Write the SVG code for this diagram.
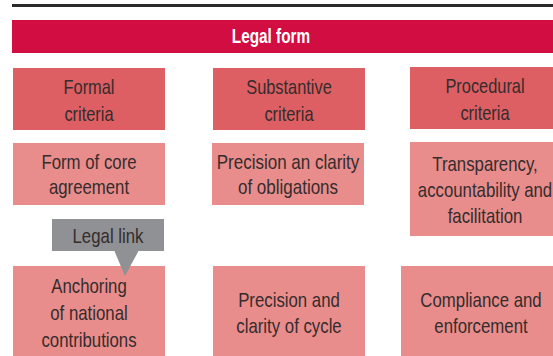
<svg xmlns="http://www.w3.org/2000/svg" width="553" height="356" viewBox="0 0 553 356">
<style>
.t{font-family:"Liberation Sans",Arial,sans-serif;font-size:20px;fill:#352c2c;text-anchor:middle}
.h{font-family:"Liberation Sans",Arial,sans-serif;font-size:21px;font-weight:bold;fill:#fff;text-anchor:middle}
.d{fill:#DD5F63}
.l{fill:#E88D8C}
</style>
<rect x="12" y="4" width="541" height="3" fill="#2b2a2a"/>
<g id="header"><rect x="12" y="20" width="541" height="33" fill="#D20D42"/><text class="h" transform="translate(271 43) scale(0.73 1)">Legal form</text></g>
<g id="formal"><rect class="d" x="13" y="68" width="152" height="62"/><text class="t" transform="translate(89 94) scale(0.82 1)">Formal</text><text class="t" transform="translate(89 121) scale(0.82 1)">criteria</text></g>
<g id="substantive"><rect class="d" x="213" y="68" width="152" height="62"/><text class="t" transform="translate(289 94) scale(0.82 1)">Substantive</text><text class="t" transform="translate(289 121) scale(0.82 1)">criteria</text></g>
<g id="procedural"><rect class="d" x="410" y="67" width="150" height="62"/><text class="t" transform="translate(485 93) scale(0.82 1)">Procedural</text><text class="t" transform="translate(485 120) scale(0.82 1)">criteria</text></g>
<g id="form-core"><rect class="l" x="13" y="143" width="152" height="62"/><text class="t" transform="translate(89 169) scale(0.84 1)">Form of core</text><text class="t" transform="translate(89 194) scale(0.84 1)">agreement</text></g>
<g id="precision-obl"><rect class="l" x="212" y="143" width="152" height="62"/><text class="t" transform="translate(288 169) scale(0.85 1)">Precision an clarity</text><text class="t" transform="translate(288 194) scale(0.85 1)">of obligations</text></g>
<g id="transparency"><rect class="l" x="410" y="142" width="150" height="94"/><text class="t" transform="translate(485 171) scale(0.84 1)">Transparency,</text><text class="t" transform="translate(485 197) scale(0.84 1)">accountability and</text><text class="t" transform="translate(485 223) scale(0.84 1)">facilitation</text></g>
<g id="anchoring"><rect class="l" x="13" y="266" width="152" height="90"/><text class="t" transform="translate(89 293) scale(0.84 1)">Anchoring</text><text class="t" transform="translate(89 320) scale(0.84 1)">of national</text><text class="t" transform="translate(89 347) scale(0.84 1)">contributions</text></g>
<g id="precision-cycle"><rect class="l" x="213" y="266" width="152" height="90"/><text class="t" transform="translate(289 307) scale(0.84 1)">Precision and</text><text class="t" transform="translate(289 333) scale(0.84 1)">clarity of cycle</text></g>
<g id="compliance"><rect class="l" x="401" y="266" width="160" height="90"/><text class="t" transform="translate(481 307) scale(0.84 1)">Compliance and</text><text class="t" transform="translate(481 333) scale(0.84 1)">enforcement</text></g>
<g id="connectors"><g id="legal-link"><rect x="52" y="219" width="112" height="32" fill="#8F9194"/><polygon points="114,250 139,250 125,276" fill="#8F9194"/><text class="t" transform="translate(108 243) scale(0.84 1)">Legal link</text></g></g>
</svg>
